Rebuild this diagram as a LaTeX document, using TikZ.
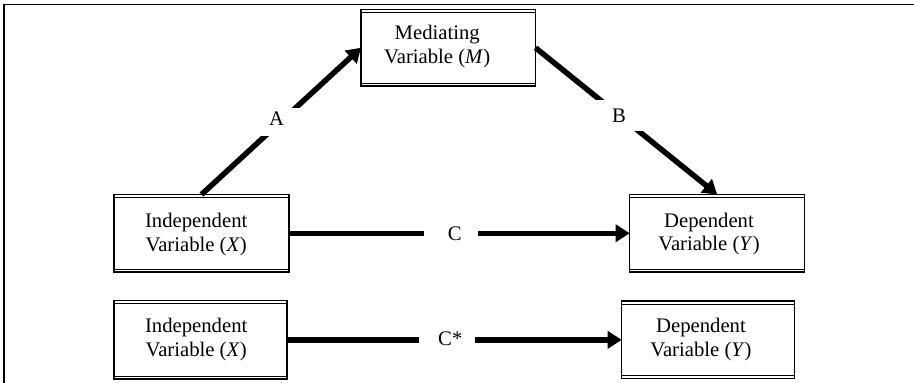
\documentclass[tikz,border=0pt]{standalone}
\usepackage{fontspec}
\setmainfont{Liberation Serif}
\usetikzlibrary{arrows.meta}
\newcommand{\boxlines}[4]{\raisebox{#2}[\height][\depth]{\begin{tabular}{@{}c@{}}#3\\#4\end{tabular}}\hspace*{#1}}
\tikzset{
  varbox/.style={draw, line width=1.3pt, inner sep=0pt, outer sep=0pt,
    font=\fontsize{20.7}{23.3}\selectfont,
    path picture={\draw[line width=1pt]
      ([yshift=-3pt]path picture bounding box.north west) -- ([yshift=-3pt]path picture bounding box.north east)
      ([yshift=3pt]path picture bounding box.south west) -- ([yshift=3pt]path picture bounding box.south east);}},
  effect/.style={line width=5.5pt, -{Triangle[length=14pt,width=17pt]}},
  lbl/.style={fill=white, inner sep=0pt, font=\fontsize{20.7}{23.3}\selectfont},
  frame/.style={line width=1.5pt}
}
\begin{document}
\begin{tikzpicture}[x=1pt,y=-1pt]
\useasboundingbox (0,0) rectangle (914,383);
\draw[frame] (4,384) -- (4,4.5) -- (915,4.5);

\node[varbox, minimum width=174.5pt, minimum height=76.5pt] (M) at (448.25,47.75)
  {\boxlines{22pt}{1pt}{Mediating}{Variable (\textit{M})}};
\node[varbox, minimum width=175pt, minimum height=77.5pt] (X1) at (201.5,233.25)
  {\boxlines{10.6pt}{-1.5pt}{Independent}{Variable (\textit{X})}};
\node[varbox, minimum width=173pt, minimum height=78.3pt] (X2) at (200.5,339.85)
  {\boxlines{8.6pt}{0pt}{Independent}{Variable (\textit{X})}};
\node[varbox, minimum width=175pt, minimum height=77.5pt] (Y1) at (717.2,233.25)
  {\boxlines{16.4pt}{-1pt}{Dependent}{Variable (\textit{Y})}};
\node[varbox, minimum width=173pt, minimum height=77.7pt] (Y2) at (708.2,339.85)
  {\boxlines{14.4pt}{0pt}{Dependent}{Variable (\textit{Y})}};

\draw[effect] (X1.north) -- (M.west);
\draw[effect] (M.east) -- (Y1.north);
\draw[effect] (X1.east) -- (Y1.west);
\draw[effect] (X2.east) -- (Y2.west);

\node[lbl, minimum width=46pt, minimum height=27.7pt] (la) at (281,122.2)
  {\raisebox{3.9pt}[\height][\depth]{A}\hspace*{8.6pt}};
\node[lbl, minimum width=52pt, minimum height=31pt] (lb) at (619,115.5) {B};
\node[lbl, minimum width=54pt, minimum height=12pt] (lc) at (451,233.5) {\hspace*{7.4pt}C};
\node[lbl, minimum width=56.3pt, minimum height=12pt] (lcs) at (447.2,340)
  {\hspace*{6.2pt}\raisebox{1pt}[\height][\depth]{C*}};
\end{tikzpicture}
\end{document}
